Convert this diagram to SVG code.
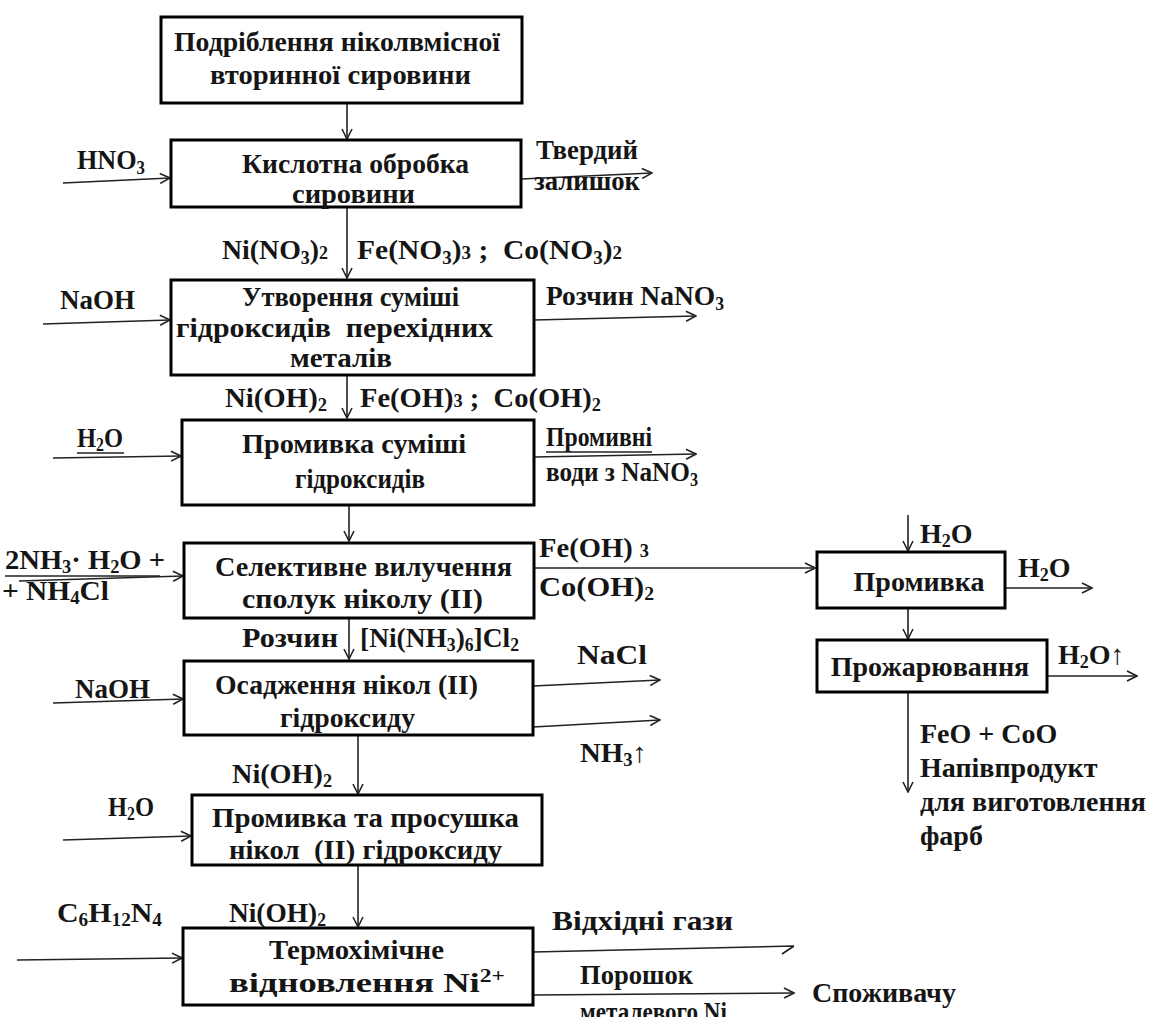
<svg xmlns="http://www.w3.org/2000/svg" width="1150" height="1017" viewBox="0 0 1150 1017">
<defs>
<marker id="ah" viewBox="0 0 12 12" refX="11" refY="6" markerWidth="12" markerHeight="12" markerUnits="userSpaceOnUse" orient="auto">
<path d="M1,1 L11,6 L1,11" fill="none" stroke="#222" stroke-width="1.6"/>
</marker>
<style>
.t{font-family:"Liberation Serif","Times New Roman",serif;font-weight:bold;font-size:28px;fill:#151515}
.w{font-size:28px}
.c{text-anchor:middle}
.s{font-size:18px}
.box{fill:#fff;stroke:#000;stroke-width:3}
.ln{fill:none;stroke:#222;stroke-width:1.6}
.u{fill:none;stroke:#222;stroke-width:1.4}
</style>
</defs>
<rect width="1150" height="1017" fill="#fff"/>

<g id="connectors">
<line class="ln" x1="347" y1="103" x2="347" y2="139" marker-end="url(#ah)"/>
<line class="ln" x1="63" y1="183" x2="170" y2="178" marker-end="url(#ah)"/>
<line class="ln" x1="521" y1="179" x2="652" y2="173" marker-end="url(#ah)"/>
<line class="ln" x1="347" y1="207" x2="347" y2="278" marker-end="url(#ah)"/>
<line class="ln" x1="43" y1="324" x2="170" y2="320" marker-end="url(#ah)"/>
<line class="ln" x1="534" y1="320" x2="696" y2="316" marker-end="url(#ah)"/>
<line class="ln" x1="347" y1="375" x2="347" y2="418" marker-end="url(#ah)"/>
<line class="ln" x1="53" y1="458" x2="181" y2="456" marker-end="url(#ah)"/>
<line class="ln" x1="534" y1="457" x2="696" y2="454" marker-end="url(#ah)"/>
<line class="ln" x1="349" y1="505" x2="349" y2="541" marker-end="url(#ah)"/>
<line class="ln" x1="19" y1="581" x2="183" y2="576" marker-end="url(#ah)"/>
<line class="ln" x1="534" y1="568" x2="815" y2="568" marker-end="url(#ah)"/>
<line class="ln" x1="349" y1="618" x2="349" y2="659" marker-end="url(#ah)"/>
<line class="ln" x1="53" y1="703" x2="183" y2="699" marker-end="url(#ah)"/>
<line class="ln" x1="533" y1="686" x2="660" y2="680" marker-end="url(#ah)"/>
<line class="ln" x1="533" y1="727" x2="660" y2="720" marker-end="url(#ah)"/>
<line class="ln" x1="358" y1="735" x2="358" y2="794" marker-end="url(#ah)"/>
<line class="ln" x1="63" y1="840" x2="191" y2="836" marker-end="url(#ah)"/>
<line class="ln" x1="358" y1="865" x2="358" y2="927" marker-end="url(#ah)"/>
<line class="ln" x1="17" y1="960" x2="182" y2="958" marker-end="url(#ah)"/>
<path class="ln" d="M533,952 L794,946 M782,954 L794,946"/>
<line class="ln" x1="533" y1="995" x2="794" y2="993" marker-end="url(#ah)"/>
<line class="ln" x1="908" y1="515" x2="908" y2="551" marker-end="url(#ah)"/>
<line class="ln" x1="1005" y1="588" x2="1092" y2="588" marker-end="url(#ah)"/>
<line class="ln" x1="908" y1="608" x2="908" y2="639" marker-end="url(#ah)"/>
<line class="ln" x1="1047" y1="676" x2="1137" y2="676" marker-end="url(#ah)"/>
<line class="ln" x1="908" y1="692" x2="908" y2="792" marker-end="url(#ah)"/>
</g>

<g id="n1">
<rect class="box" x="161" y="17" width="361" height="86"/>
<text class="t" x="174" y="51" textLength="326" lengthAdjust="spacingAndGlyphs">Подріблення ніколвмісної</text>
<text class="t" x="210" y="84" textLength="261" lengthAdjust="spacingAndGlyphs">вторинної сировини</text>
</g>

<g id="n2">
<rect class="box" x="171" y="140" width="350" height="67"/>
<text class="t" x="242" y="173" textLength="227" lengthAdjust="spacingAndGlyphs">Кислотна обробка</text>
<text class="t" x="292" y="203" textLength="123" lengthAdjust="spacingAndGlyphs">сировини</text>
</g>

<g id="n3">
<rect class="box" x="171" y="280" width="363" height="95"/>
<text class="t" x="242" y="306" textLength="217" lengthAdjust="spacingAndGlyphs">Утворення суміші</text>
<text class="t" x="176" y="337" textLength="317" lengthAdjust="spacingAndGlyphs" xml:space="preserve">гідроксидів  перехідних</text>
<text class="t" x="290" y="367" textLength="102" lengthAdjust="spacingAndGlyphs">металів</text>
</g>

<g id="n4">
<rect class="box" x="182" y="420" width="352" height="85"/>
<text class="t" x="242" y="453" textLength="224" lengthAdjust="spacingAndGlyphs">Промивка суміші</text>
<text class="t" x="295" y="488" textLength="130" lengthAdjust="spacingAndGlyphs">гідроксидів</text>
</g>

<g id="n5">
<rect class="box" x="184" y="543" width="350" height="75"/>
<text class="t" x="215" y="576" textLength="297" lengthAdjust="spacingAndGlyphs">Селективне вилучення</text>
<text class="t" x="242" y="608" textLength="241" lengthAdjust="spacingAndGlyphs">сполук ніколу (II)</text>
</g>

<g id="n6">
<rect class="box" x="184" y="661" width="349" height="74"/>
<text class="t" x="215" y="694" textLength="263" lengthAdjust="spacingAndGlyphs">Осадження нікол (II)</text>
<text class="t" x="280" y="727" textLength="135" lengthAdjust="spacingAndGlyphs">гідроксиду</text>
</g>

<g id="n7">
<rect class="box" x="192" y="795" width="350" height="70"/>
<text class="t" x="212" y="827" textLength="307" lengthAdjust="spacingAndGlyphs">Промивка та просушка</text>
<text class="t" x="229" y="859" textLength="273" lengthAdjust="spacingAndGlyphs" xml:space="preserve">нікол  (II) гідроксиду</text>
</g>

<g id="n8">
<rect class="box" x="183" y="928" width="350" height="77"/>
<text class="t" x="269" y="959" textLength="175" lengthAdjust="spacingAndGlyphs">Термохімічне</text>
<text class="t" x="229" y="992" textLength="276" lengthAdjust="spacingAndGlyphs">відновлення Ni<tspan class="s" dy="-10">2+</tspan></text>
</g>

<g id="r1">
<rect class="box" x="817" y="552" width="188" height="56"/>
<text class="t w c" x="919" y="591">Промивка</text>
</g>

<g id="r2">
<rect class="box" x="817" y="640" width="230" height="52"/>
<text class="t w c" x="930" y="676">Прожарювання</text>
</g>

<g id="labels">
<text class="t" x="77" y="169" textLength="68" lengthAdjust="spacingAndGlyphs">HNO<tspan class="s" dy="5">3</tspan></text>
<text class="t" x="536" y="159" textLength="102" lengthAdjust="spacingAndGlyphs">Твердий</text>
<text class="t" x="534" y="190" textLength="106" lengthAdjust="spacingAndGlyphs">залишок</text>
<text class="t" x="222" y="259" textLength="106" lengthAdjust="spacingAndGlyphs">Ni(NO<tspan class="s" dy="5">3</tspan><tspan dy="-5">)</tspan><tspan class="s">2</tspan></text>
<text class="t" x="357" y="259" textLength="265" lengthAdjust="spacingAndGlyphs" xml:space="preserve">Fe(NO<tspan class="s" dy="5">3</tspan><tspan dy="-5">)</tspan><tspan class="s">3</tspan> ;  Co(NO<tspan class="s" dy="5">3</tspan><tspan dy="-5">)</tspan><tspan class="s">2</tspan></text>
<text class="t" x="60" y="309" textLength="75" lengthAdjust="spacingAndGlyphs">NaOH</text>
<text class="t" x="546" y="305" textLength="178" lengthAdjust="spacingAndGlyphs">Розчин NaNO<tspan class="s" dy="5">3</tspan></text>
<text class="t" x="225" y="407" textLength="102" lengthAdjust="spacingAndGlyphs">Ni(OH)<tspan class="s" dy="4">2</tspan></text>
<text class="t" x="360" y="407" textLength="241" lengthAdjust="spacingAndGlyphs" xml:space="preserve">Fe(OH)<tspan class="s">3</tspan> ;  Co(OH)<tspan class="s" dy="4">2</tspan></text>
<text class="t" x="77" y="447" textLength="46" lengthAdjust="spacingAndGlyphs">H<tspan class="s" dy="4">2</tspan><tspan dy="-4">O</tspan></text>
<line class="u" x1="77" y1="453" x2="124" y2="453"/>
<text class="t" x="546" y="446" textLength="106" lengthAdjust="spacingAndGlyphs">Промивні</text>
<line class="u" x1="546" y1="452" x2="652" y2="452"/>
<text class="t" x="546" y="481" textLength="152" lengthAdjust="spacingAndGlyphs">води з NaNO<tspan class="s" dy="5">3</tspan></text>
<text class="t" x="5" y="569" textLength="160" lengthAdjust="spacingAndGlyphs" xml:space="preserve">2NH<tspan class="s" dy="4">3</tspan><tspan dy="-4">· H</tspan><tspan class="s" dy="4">2</tspan><tspan dy="-4">O +</tspan></text>
<line class="u" x1="5" y1="576" x2="160" y2="576"/>
<text class="t" x="2" y="600" textLength="107" lengthAdjust="spacingAndGlyphs">+ NH<tspan class="s" dy="4">4</tspan><tspan dy="-4">Cl</tspan></text>
<text class="t" x="539" y="557" textLength="110" lengthAdjust="spacingAndGlyphs" xml:space="preserve">Fe(OH) <tspan class="s">3</tspan></text>
<text class="t" x="539" y="596" textLength="115" lengthAdjust="spacingAndGlyphs">Co(OH)<tspan class="s" dy="4">2</tspan></text>
<text class="t" x="242" y="647" textLength="96" lengthAdjust="spacingAndGlyphs">Розчин</text>
<text class="t" x="360" y="647" textLength="159" lengthAdjust="spacingAndGlyphs">[Ni(NH<tspan class="s" dy="4">3</tspan><tspan dy="-4">)</tspan><tspan class="s" dy="4">6</tspan><tspan dy="-4">]Cl</tspan><tspan class="s" dy="4">2</tspan></text>
<text class="t" x="75" y="698" textLength="75" lengthAdjust="spacingAndGlyphs">NaOH</text>
<text class="t" x="577" y="664" textLength="70" lengthAdjust="spacingAndGlyphs">NaCl</text>
<text class="t" x="580" y="762" textLength="67" lengthAdjust="spacingAndGlyphs">NH<tspan class="s" dy="4">3</tspan><tspan dy="-4">↑</tspan></text>
<text class="t" x="232" y="783" textLength="100" lengthAdjust="spacingAndGlyphs">Ni(OH)<tspan class="s" dy="4">2</tspan></text>
<text class="t" x="108" y="816" textLength="46" lengthAdjust="spacingAndGlyphs">H<tspan class="s" dy="4">2</tspan><tspan dy="-4">O</tspan></text>
<text class="t" x="57" y="922" textLength="105" lengthAdjust="spacingAndGlyphs">C<tspan class="s" dy="4">6</tspan><tspan dy="-4">H</tspan><tspan class="s" dy="4">12</tspan><tspan dy="-4">N</tspan><tspan class="s" dy="4">4</tspan></text>
<text class="t" x="229" y="922" textLength="97" lengthAdjust="spacingAndGlyphs">Ni(OH)<tspan class="s" dy="4">2</tspan></text>
<text class="t" x="552" y="930" textLength="181" lengthAdjust="spacingAndGlyphs">Відхідні гази</text>
<text class="t" x="580" y="984" textLength="113" lengthAdjust="spacingAndGlyphs">Порошок</text>
<text class="t" x="580" y="1021" textLength="147" lengthAdjust="spacingAndGlyphs">металевого Ni</text>
<text class="t w" x="812" y="1002">Споживачу</text>
<text class="t w" x="920" y="543">H<tspan class="s" dy="4">2</tspan><tspan dy="-4">O</tspan></text>
<text class="t w" x="1018" y="577">H<tspan class="s" dy="4">2</tspan><tspan dy="-4">O</tspan></text>
<text class="t w" x="1058" y="664">H<tspan class="s" dy="4">2</tspan><tspan dy="-4">O↑</tspan></text>
<text class="t w" x="920" y="743">FeO + CoO</text>
<text class="t w" x="920" y="777">Напівпродукт</text>
<text class="t w" x="920" y="811">для виготовлення</text>
<text class="t w" x="920" y="845">фарб</text>
</g>
</svg>
